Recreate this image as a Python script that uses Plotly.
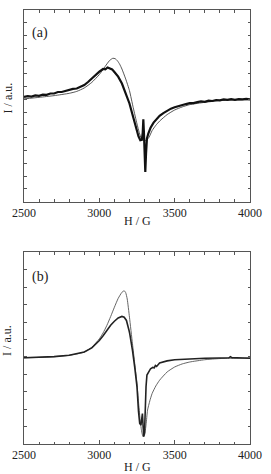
import plotly.graph_objects as go
from plotly.subplots import make_subplots

# ---- Panel (a) data (arbitrary intensity units, fraction of frame height) ----
a_exp_h = [2500, 2525, 2550, 2575, 2600, 2625, 2650, 2675, 2700, 2725, 2750, 2775, 2800, 2825,
           2850, 2875, 2900, 2925, 2950, 2975, 3000, 3025, 3040, 3055, 3070, 3085, 3100, 3125,
           3150, 3175, 3200, 3225, 3245, 3260, 3272, 3282, 3288, 3292, 3296, 3300, 3305, 3310,
           3316, 3325, 3340, 3360, 3380, 3400, 3425, 3450, 3475, 3500, 3525, 3550, 3575, 3600,
           3625, 3650, 3675, 3700, 3725, 3750, 3775, 3800, 3825, 3850, 3875, 3900, 3925, 3950,
           3975, 4000]
a_exp_i = [0.546, 0.550, 0.548, 0.554, 0.552, 0.558, 0.557, 0.564, 0.564, 0.572, 0.572, 0.578,
           0.580, 0.588, 0.590, 0.600, 0.608, 0.624, 0.642, 0.662, 0.678, 0.692, 0.690, 0.700,
           0.694, 0.690, 0.676, 0.652, 0.616, 0.568, 0.512, 0.440, 0.380, 0.340, 0.320, 0.322,
           0.360, 0.430, 0.360, 0.250, 0.155, 0.250, 0.330, 0.355, 0.385, 0.412, 0.432, 0.448,
           0.462, 0.474, 0.485, 0.492, 0.499, 0.504, 0.509, 0.514, 0.514, 0.519, 0.523, 0.521,
           0.527, 0.525, 0.530, 0.528, 0.533, 0.531, 0.535, 0.531, 0.535, 0.533, 0.536, 0.533]

a_sim_h = [2500, 2600, 2700, 2800, 2850, 2900, 2950, 3000, 3025, 3050, 3070, 3090, 3105, 3120,
           3135, 3150, 3175, 3200, 3225, 3250, 3265, 3280, 3300, 3315, 3330, 3350, 3375, 3400,
           3450, 3500, 3550, 3600, 3700, 3800, 3900, 4000]
a_sim_i = [0.536, 0.544, 0.553, 0.565, 0.575, 0.593, 0.622, 0.663, 0.690, 0.718, 0.738, 0.748,
           0.746, 0.735, 0.717, 0.692, 0.640, 0.579, 0.490, 0.405, 0.360, 0.327, 0.318, 0.322,
           0.336, 0.370, 0.398, 0.420, 0.454, 0.478, 0.494, 0.506, 0.518, 0.527, 0.530, 0.532]

# ---- Panel (b) data ----
b_exp_h = [2500, 2600, 2700, 2800, 2850, 2900, 2950, 3000, 3025, 3050, 3075, 3100, 3125, 3150,
           3165, 3180, 3190, 3195, 3198, 3202, 3210, 3220, 3235, 3250, 3260, 3268, 3276, 3282,
           3286, 3290, 3295, 3300, 3305, 3310, 3316, 3325, 3340, 3355, 3365, 3372, 3380, 3400,
           3450, 3500, 3600, 3700, 3800, 3860, 3870, 3880, 3950, 4000]
b_exp_i = [0.450, 0.452, 0.456, 0.463, 0.470, 0.480, 0.502, 0.540, 0.565, 0.593, 0.620, 0.641,
           0.658, 0.666, 0.662, 0.645, 0.620, 0.600, 0.590, 0.575, 0.540, 0.489, 0.400, 0.298,
           0.170, 0.107, 0.099, 0.130, 0.159, 0.100, 0.038, 0.060, 0.200, 0.300, 0.360, 0.375,
           0.393, 0.400, 0.398, 0.410, 0.405, 0.423, 0.434, 0.440, 0.445, 0.448, 0.449, 0.450,
           0.456, 0.451, 0.449, 0.448]

b_sim_h = [2500, 2600, 2700, 2800, 2850, 2900, 2950, 3000, 3025, 3050, 3075, 3100, 3125, 3150,
           3165, 3175, 3185, 3200, 3220, 3235, 3250, 3260, 3270, 3280, 3290, 3300, 3310, 3320,
           3335, 3350, 3375, 3400, 3450, 3500, 3550, 3600, 3700, 3800, 3900, 4000]
b_sim_i = [0.450, 0.452, 0.456, 0.463, 0.470, 0.480, 0.505, 0.549, 0.580, 0.619, 0.665, 0.714,
           0.760, 0.792, 0.800, 0.790, 0.757, 0.662, 0.523, 0.420, 0.315, 0.220, 0.133, 0.070,
           0.038, 0.047, 0.100, 0.177, 0.225, 0.263, 0.303, 0.333, 0.376, 0.402, 0.418, 0.428,
           0.440, 0.446, 0.448, 0.449]

x_tickvals = [2500, 3000, 3500, 4000]
x_ticktext = ["2500", "3000", "3500", "4000"]
panel_labels = ["(a)", "(b)"]
x_title = "H / G"
y_title = "I / a.u."

FONT = "Liberation Serif, Times New Roman, serif"
AX = "#555555"
TXT = "#222222"

fig = make_subplots(rows=2, cols=1, vertical_spacing=0.0)

fig.add_trace(go.Scatter(x=a_sim_h, y=a_sim_i, mode="lines", line=dict(color="#444", width=0.9, shape="spline", smoothing=0.5)), row=1, col=1)
fig.add_trace(go.Scatter(x=a_exp_h, y=a_exp_i, mode="lines", line=dict(color="#111", width=2.2)), row=1, col=1)
fig.add_trace(go.Scatter(x=b_sim_h, y=b_sim_i, mode="lines", line=dict(color="#555", width=0.9, shape="spline", smoothing=0.5)), row=2, col=1)
fig.add_trace(go.Scatter(x=b_exp_h, y=b_exp_i, mode="lines", line=dict(color="#222", width=1.6)), row=2, col=1)

H = 474 - 9 - 30
top_dom = [(444 - 201) / H, 1.0]
bot_dom = [0.0, (444 - 252) / H]

xcommon = dict(range=[2500, 4000], tickvals=x_tickvals, ticktext=x_ticktext, ticks="inside",
               ticklen=4, tickcolor=AX, showline=True, linecolor=AX, linewidth=1, mirror="ticks",
               showgrid=False, zeroline=False, tickfont=dict(family=FONT, size=12, color=TXT),
               minor=dict(dtick=100, tick0=2500, ticks="inside", ticklen=2.5, tickcolor=AX, showgrid=False))
fig.update_xaxes(**xcommon)

ycommon = dict(range=[0, 1], showticklabels=False, ticks="inside", ticklen=2.5, tickcolor=AX,
               showline=True, linecolor=AX, linewidth=1, mirror="ticks", showgrid=False, zeroline=False, tick0=0)
fig.update_yaxes(**ycommon)
fig.update_yaxes(row=1, col=1, domain=top_dom, dtick=1 / 15)
fig.update_yaxes(row=2, col=1, domain=bot_dom, dtick=1 / 11)

ann = []
for yc in [220, 467]:
    ann.append(dict(text=x_title, xref="paper", yref="paper", x=0.5, y=(444 - yc) / H, yanchor="middle",
                    showarrow=False, font=dict(family=FONT, size=12, color=TXT)))
for yc in [97, 340]:
    ann.append(dict(text=y_title, xref="paper", yref="paper", x=-(24 - 7) / 235, xanchor="center",
                    y=(444 - yc) / H, yanchor="middle", textangle=-90, showarrow=False,
                    font=dict(family=FONT, size=12, color=TXT)))
for lab, yc in zip(panel_labels, [32, 277]):
    ann.append(dict(text=lab, xref="paper", yref="paper", x=(41 - 24) / 235, xanchor="center",
                    y=(444 - yc) / H, yanchor="middle", showarrow=False,
                    font=dict(family=FONT, size=14, color=TXT)))

fig.update_layout(width=271, height=474, margin=dict(l=24, r=12, t=9, b=30),
                  plot_bgcolor="white", paper_bgcolor="white", showlegend=False, annotations=ann)

fig.write_html("out.html")
